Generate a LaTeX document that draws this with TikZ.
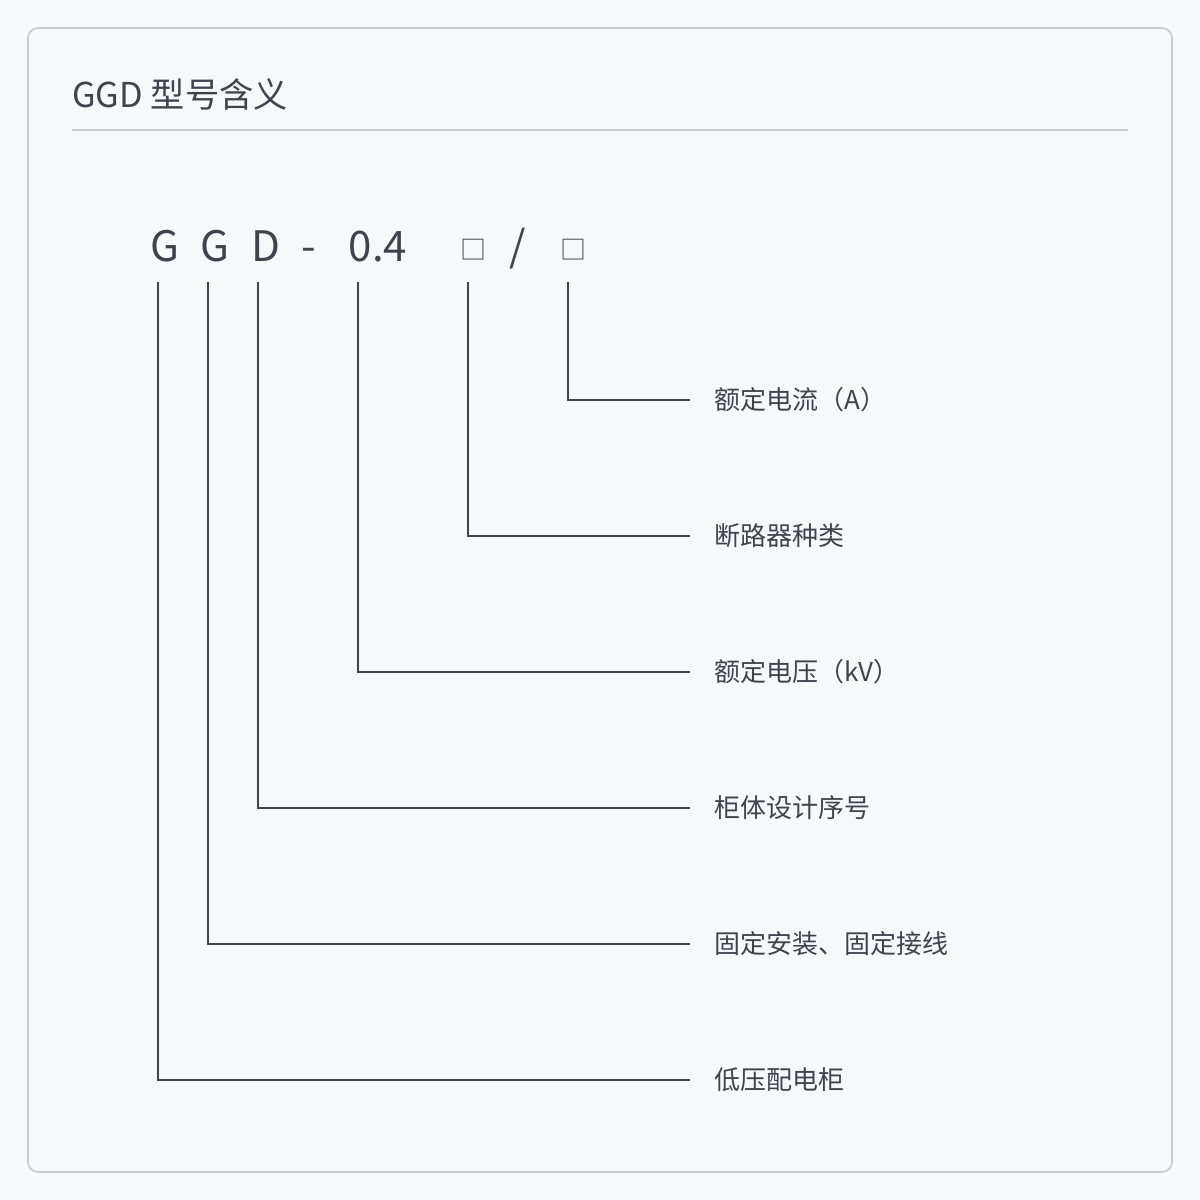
\documentclass[tikz,border=0pt]{standalone}
\usepackage{fontspec}
\setmainfont{Noto Sans CJK SC}
\usepackage{xcolor}
\usetikzlibrary{positioning}
\definecolor{pagebg}{HTML}{F7F8FA}
\definecolor{cardline}{HTML}{C8CBD3}
\definecolor{inkgray}{HTML}{3E434C}
\tikzset{
  codechar/.style={anchor=base,inner sep=0pt,text=inkgray,font=\fontsize{31.5pt}{36pt}\selectfont},
  codebox/.style={anchor=base,inner sep=0pt,text=inkgray,font=\fontsize{19.5pt}{23pt}\selectfont},
  meaning/.style={anchor=west,inner xsep=18pt,inner ysep=0pt,text=inkgray,font=\fontsize{19.5pt}{23pt}\selectfont},
  leader/.style={draw=inkgray,line width=1.5pt},
}
\begin{document}
\begin{tikzpicture}[x=0.75pt,y=-0.75pt]
		\useasboundingbox[fill=pagebg] (0,0) rectangle (1200,1200);
		\draw[cardline,line width=1.2pt,rounded corners=7.5pt,fill=pagebg] (28,28) rectangle (1172,1172);
		% title
		\node[anchor=base west,inner sep=0pt,text=inkgray,font=\fontsize{25.7pt}{30pt}\selectfont] (title) at (72,107) {GGD 型号含义};
		\draw[cardline,line width=1.2pt] (72,130) -- (1128,130);
		% model code
		\node[codechar] (cG1) at (165,261) {G};
		\node[codechar] (cG2) at (215,261) {G};
		\node[codechar] (cD) at (266,261) {D};
		\node[codechar] (cdash) at (309,261) {-};
		\node[codechar] (cvolt) at (378,261) {0.4};
		\node[codebox] (cbrk) at (473,259) {□};
		\node[codechar] (cslash) at (518,261) {/};
		\node[codebox] (ccur) at (573,259) {□};
		% tops of the leaders
		\coordinate (tG1) at (158,282);
		\coordinate (tG2) at (208,282);
		\coordinate (tD) at (258,282);
		\coordinate (tvolt) at (358,282);
		\coordinate (tbrk) at (468,282);
		\coordinate (tcur) at (568,282);
		% meanings
		\node[meaning] (mcur) at (690,400) {额定电流（A）};
		\node[meaning] (mbrk) at (690,536) {断路器种类};
		\node[meaning] (mvolt) at (690,672) {额定电压（kV）};
		\node[meaning] (mD) at (690,808) {柜体设计序号};
		\node[meaning] (mG2) at (690,944) {固定安装、固定接线};
		\node[meaning] (mG1) at (690,1080) {低压配电柜};
		\draw[leader] (tcur) |- (mcur.west);
		\draw[leader] (tbrk) |- (mbrk.west);
		\draw[leader] (tvolt) |- (mvolt.west);
		\draw[leader] (tD) |- (mD.west);
		\draw[leader] (tG2) |- (mG2.west);
		\draw[leader] (tG1) |- (mG1.west);
	\end{tikzpicture}
\end{document}
